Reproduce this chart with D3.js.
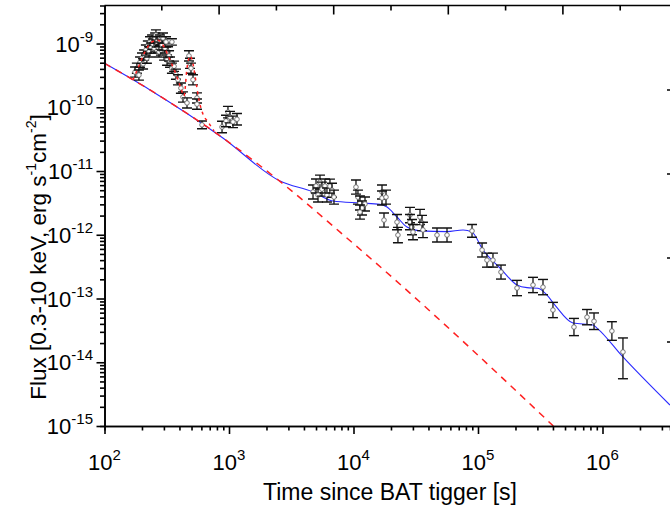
<!DOCTYPE html>
<html>
  <head>
    <meta charset="utf-8">
    <title></title>
    <script type="text/javascript" src="https://d3js.org/d3.v7.min.js"></script>
    <style media="screen">
      body { margin: 0; background: #fff; }
      svg text { font-family: Arial, "Liberation Sans", sans-serif; fill: #000; }
      .axis path, .axis line { stroke: #000; stroke-width: 1.6; }
    </style>
  </head>
  <body>
    <script type="text/javascript">
      var w = 670;
      var h = 510;
      var left = 104.5, top_ = 5.5, bottom = 426, right = 670;

      // x-ray observations: time [s], flux [erg/s/cm2], error half-widths in dex
      var obsTime = [182, 176, 189, 193, 200, 204, 208, 215, 219, 223, 228, 232, 236, 241, 245, 250, 255, 259,
        264, 269, 274, 279, 284, 290, 295, 301, 306, 312, 318, 324, 330, 336, 348, 348, 362, 375, 389, 411,
        427, 460, 477, 486, 495, 514, 553, 553, 607, 879, 946, 981, 1019, 1077, 1159,
        4730, 5000, 5190, 5380, 5580, 5900, 6120, 6470, 6720, 6970, 10470, 10860, 11270, 11700, 12370, 11270,
        16940, 16940, 18240, 17580, 22360, 22750, 28420, 28420, 29500, 30060, 34210, 35500, 36150, 46860, 56380,
        89540, 107800, 118100, 131900, 153000, 205800, 276600, 332700, 400000, 590000, 751000, 855000, 1.19e6, 1.46e6];
      var obsFlux = [4.1e-10, 3.57e-10, 3.2e-10, 5.1e-10, 5.9e-10, 4.8e-10, 6.6e-10, 7.9e-10, 5.9e-10, 9.1e-10,
        7.4e-10, 1.06e-9, 8.5e-10, 1.13e-9, 9.8e-10, 8.5e-10, 1.22e-9, 1.36e-9, 1.06e-9, 8.8e-10, 7.4e-10, 1.13e-9,
        7.9e-10, 9.5e-10, 1.22e-9, 6.6e-10, 8.5e-10, 1.06e-9, 5.5e-10, 7.4e-10, 6.4e-10, 5.1e-10, 1.06e-9, 4.1e-10,
        4.4e-10, 3.3e-10, 2.7e-10, 2.0e-10, 1.45e-10, 1.17e-10, 6.4e-10, 4.9e-10, 4.1e-10, 2.7e-10, 1.40e-10,
        1.12e-10, 5.3e-11, 4.9e-11, 6.1e-11, 8.4e-11, 7.0e-11, 5.9e-11, 6.5e-11,
        4.69e-12, 5.82e-12, 4.2e-12, 6.7e-12, 5.2e-12, 5.82e-12, 4.2e-12, 5.8e-12, 5.0e-12, 3.9e-12, 5.6e-12,
        3.9e-12, 3.15e-12, 2.63e-12, 3.04e-12, 2.27e-12, 4.69e-12, 3.77e-12, 3.9e-12, 1.70e-12, 1.58e-12, 9.9e-13,
        2.04e-12, 1.58e-12, 1.32e-12, 1.10e-12, 1.90e-12, 1.53e-12, 1.19e-12, 9.9e-13, 9.9e-13,
        1.15e-12, 5.77e-13, 4.0e-13, 4.0e-13, 2.6e-13, 1.46e-13, 1.63e-13, 1.51e-13, 6.6e-14, 3.57e-14, 5.1e-14,
        4.4e-14, 3.09e-14, 1.45e-14];
      var obsErrUp = [0.08, 0.08, 0.08, 0.08, 0.08, 0.08, 0.08, 0.08, 0.08, 0.08, 0.08, 0.08, 0.08, 0.08, 0.08, 0.08,
        0.08, 0.08, 0.08, 0.08, 0.08, 0.08, 0.08, 0.08, 0.08, 0.08, 0.08, 0.08, 0.08, 0.08, 0.08, 0.08, 0.05, 0.08,
        0.08, 0.08, 0.08, 0.08, 0.08, 0.08, 0.08, 0.08, 0.08, 0.08, 0.08, 0.08, 0.06, 0.09, 0.09, 0.09, 0.09, 0.09, 0.09,
        0.11, 0.11, 0.11, 0.11, 0.11, 0.11, 0.11, 0.11, 0.11, 0.11, 0.11, 0.11, 0.11, 0.11, 0.11, 0.11,
        0.11, 0.11, 0.11, 0.11, 0.12, 0.12, 0.12, 0.12, 0.12, 0.12, 0.12, 0.12, 0.12, 0.11, 0.11,
        0.1, 0.11, 0.11, 0.11, 0.11, 0.12, 0.12, 0.12, 0.12, 0.135, 0.12, 0.13, 0.146, 0.22];
      var obsErrDown = obsErrUp.slice(0, obsErrUp.length - 1).concat([0.42]);

      // red dashed power-law component
      var plTime = [100, 232, 893, 2920, 7800, 20760, 52360, 402800];
      var plFlux = [4.89e-10, 1.87e-10, 3.30e-11, 5.61e-12, 1.10e-12, 2.10e-13, 4.13e-14, 1.0e-15];

      // red dashed flare component
      var flTime = [169, 186, 211, 241, 269, 301, 336, 375, 411, 435, 460, 486, 514, 543, 574, 618, 678, 758];
      var flFlux = [2.67e-10, 4.13e-10, 7.36e-10, 1.06e-9, 1.13e-9, 8.8e-10, 5.5e-10, 3.3e-10, 2.0e-10, 1.5e-10,
        4.1e-10, 6.4e-10, 4.8e-10, 2.49e-10, 1.30e-10, 7.8e-11, 5.9e-11, 4.24e-11];

      // blue total model
      var mdTime = [100, 232, 893, 2570, 4730, 6840, 11270, 16330, 18580, 22360, 26890, 34210, 56380, 75840,
        89540, 109800, 150300, 205800, 247600, 303500, 358400, 415000, 579000, 839000, 903000, 1.46e6, 3.48e6];
      var mdFlux = [4.89e-10, 1.87e-10, 3.30e-11, 6.97e-12, 4.69e-12, 3.38e-12, 3.15e-12, 3.01e-12, 2.72e-12,
        1.90e-12, 1.32e-12, 1.15e-12, 1.12e-12, 1.19e-12, 1.10e-12, 5.77e-13, 3.01e-13, 1.63e-13, 1.48e-13,
        1.45e-13, 1.13e-13, 7.9e-14, 4.13e-14, 3.84e-14, 3.44e-14, 1.21e-14, 2.13e-15];

      var yExp = [-15, -14, -13, -12, -11, -10, -9];
      var xExp = [2, 3, 4, 5, 6];

      var svg = d3.select('body').append('svg')
        .attr('width', w)
        .attr('height', h);

      var xscale = d3.scaleLog().domain([100, 3.485e6]).range([left, right]);
      var yscale = d3.scaleLog().domain([1e-15, 3.95e-9]).range([bottom, top_]);

      svg.append('clipPath').attr('id', 'clip')
        .append('rect').attr('x', left).attr('y', top_)
        .attr('width', right - left).attr('height', bottom - top_);

      var plot = svg.append('g').attr('clip-path', 'url(#clip)');

      var line = d3.line()
        .x(function(d) { return xscale(d[0]); })
        .y(function(d) { return yscale(d[1]); })
        .curve(d3.curveMonotoneX);

      plot.append('path')
        .attr('d', line(mdTime.map(function(t, i) { return [t, mdFlux[i]]; })))
        .attr('fill', 'none').attr('stroke', '#2a2aff').attr('stroke-width', 1.1);

      // data points with error bars
      var obs = obsTime.map(function(t, i) {
        return { t: t, f: obsFlux[i], hi: obsFlux[i] * Math.pow(10, obsErrUp[i]), lo: obsFlux[i] / Math.pow(10, obsErrDown[i]) };
      });
      var pts = plot.selectAll('g.pt').data(obs).enter().append('g').attr('class', 'pt');
      pts.append('line')
        .attr('x1', function(d) { return xscale(d.t); }).attr('x2', function(d) { return xscale(d.t); })
        .attr('y1', function(d) { return yscale(d.hi); }).attr('y2', function(d) { return yscale(d.lo); })
        .attr('stroke', '#111').attr('stroke-width', 1.3);
      pts.append('line')
        .attr('x1', function(d) { return xscale(d.t) - 5; }).attr('x2', function(d) { return xscale(d.t) + 5; })
        .attr('y1', function(d) { return yscale(d.hi); }).attr('y2', function(d) { return yscale(d.hi); })
        .attr('stroke', '#111').attr('stroke-width', 1.4);
      pts.append('line')
        .attr('x1', function(d) { return xscale(d.t) - 5; }).attr('x2', function(d) { return xscale(d.t) + 5; })
        .attr('y1', function(d) { return yscale(d.lo); }).attr('y2', function(d) { return yscale(d.lo); })
        .attr('stroke', '#111').attr('stroke-width', 1.4);
      pts.append('circle')
        .attr('cx', function(d) { return xscale(d.t); })
        .attr('cy', function(d) { return yscale(d.f); })
        .attr('r', 2.3)
        .attr('fill', '#fff').attr('stroke', '#666').attr('stroke-width', 0.9);

      plot.append('path')
        .attr('d', line(plTime.map(function(t, i) { return [t, plFlux[i]]; })))
        .attr('fill', 'none').attr('stroke', '#ff2020').attr('stroke-width', 1.5)
        .attr('stroke-dasharray', '7,6');
      plot.append('path')
        .attr('d', line(flTime.map(function(t, i) { return [t, flFlux[i]]; })))
        .attr('fill', 'none').attr('stroke', '#ff2020').attr('stroke-width', 1.5)
        .attr('stroke-dasharray', '3,4');

      // axes
      var yMinor = [];
      var xMinor = [];
      yExp.forEach(function(e) { for (var m = 2; m < 10; m++) { if (m * Math.pow(10, e) < 3.95e-9) yMinor.push(m * Math.pow(10, e)); } });
      xExp.forEach(function(e) { for (var m = 2; m < 10; m++) { if (m * Math.pow(10, e) < 3.485e6) xMinor.push(m * Math.pow(10, e)); } });

      svg.append('g').attr('class', 'axis')
        .attr('transform', 'translate(' + left + ',0)')
        .call(d3.axisLeft(yscale).tickValues(yMinor).tickSize(4.5).tickFormat(''));
      svg.append('g').attr('class', 'axis')
        .attr('transform', 'translate(' + left + ',0)')
        .call(d3.axisLeft(yscale).tickValues(yExp.map(function(e) { return Math.pow(10, e); })).tickSize(8).tickSizeOuter(0).tickFormat(''));

      svg.append('g').attr('class', 'axis')
        .attr('transform', 'translate(0,' + bottom + ')')
        .call(d3.axisBottom(xscale).tickValues(xMinor).tickSize(4.5).tickFormat(''));
      svg.append('g').attr('class', 'axis')
        .attr('transform', 'translate(0,' + bottom + ')')
        .call(d3.axisBottom(xscale).tickValues(xExp.map(function(e) { return Math.pow(10, e); })).tickSize(8).tickSizeOuter(0).tickFormat(''));

      // top axis (unlabelled, linear ticks pointing inward)
      var topScale = d3.scaleLinear().domain([0, 5]).range([left, left + 573]);
      svg.append('line').attr('x1', left).attr('x2', right).attr('y1', top_).attr('y2', top_)
        .attr('stroke', '#000').attr('stroke-width', 1.6);
      svg.selectAll('line.ttick').data(d3.range(0.5, 5, 0.5)).enter().append('line').attr('class', 'ttick')
        .attr('x1', function(d) { return topScale(d); }).attr('x2', function(d) { return topScale(d); })
        .attr('y1', top_).attr('y2', function(d) { return top_ + (d % 1 === 0 ? 9 : 5); })
        .attr('stroke', '#000').attr('stroke-width', 1.6);

      // stub ticks of the neighbouring panel at the right edge
      var rightScale = d3.scaleLinear().domain([0, 5]).range([bottom, 6]);
      svg.selectAll('line.rtick').data([1, 2, 3, 4]).enter().append('line').attr('class', 'rtick')
        .attr('x1', right - 3).attr('x2', right)
        .attr('y1', function(d) { return rightScale(d); }).attr('y2', function(d) { return rightScale(d); })
        .attr('stroke', '#000').attr('stroke-width', 1.5);

      // tick labels
      var yl = svg.selectAll('text.yl').data(yExp).enter().append('text').attr('class', 'yl')
        .attr('x', 93).attr('y', function(d) { return yscale(Math.pow(10, d)) + 8; })
        .attr('text-anchor', 'end').style('font-size', '22px');
      yl.append('tspan').text('10');
      yl.append('tspan').attr('dy', -10).style('font-size', '15px').text(function(d) { return d; });

      var xl = svg.selectAll('text.xl').data(xExp).enter().append('text').attr('class', 'xl')
        .attr('x', function(d) { return xscale(Math.pow(10, d)); }).attr('y', 470)
        .attr('text-anchor', 'middle').style('font-size', '22px');
      xl.append('tspan').text('10');
      xl.append('tspan').attr('dy', -10).style('font-size', '15px').text(function(d) { return d; });

      // axis titles
      svg.append('text').attr('x', 390).attr('y', 500).attr('text-anchor', 'middle')
        .style('font-size', '23px').text('Time since BAT tigger [s]');
      var yt = svg.append('text').attr('transform', 'translate(46,257) rotate(-90)')
        .attr('text-anchor', 'middle').style('font-size', '22.5px');
      yt.append('tspan').text('Flux [0.3-10 keV, erg s');
      yt.append('tspan').attr('dy', -10).style('font-size', '14px').text('-1');
      yt.append('tspan').attr('dy', 10).text('cm');
      yt.append('tspan').attr('dy', -10).style('font-size', '14px').text('-2');
      yt.append('tspan').attr('dy', 10).text(']');
    </script>
  </body>
</html>
